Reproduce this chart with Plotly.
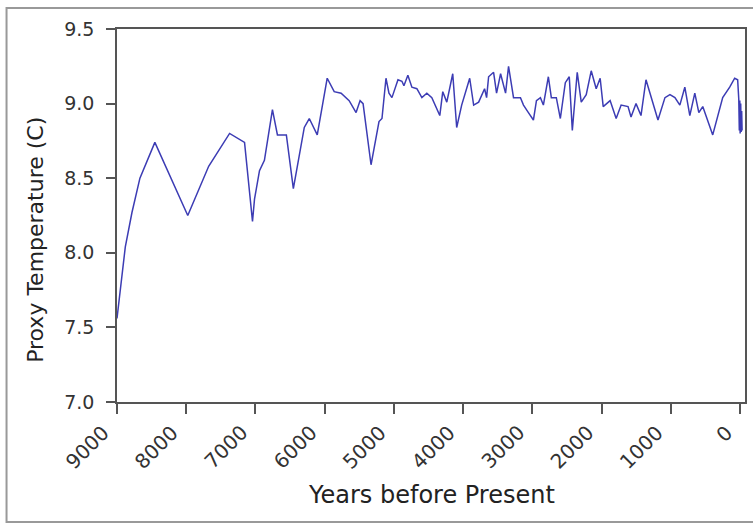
import plotly.graph_objects as go

# Proxy temperature reconstruction, years before present vs. degrees C
years = [
    9000, 8880, 8784, 8669, 8453, 7978, 7676, 7374, 7158, 7043, 7014, 6942,
    6871, 6755, 6683, 6554, 6453, 6295, 6223, 6108, 5964, 5863, 5763, 5647,
    5547, 5489, 5446, 5331, 5216, 5173, 5115, 5072, 5029, 4942, 4885, 4856,
    4799, 4741, 4669, 4597, 4525, 4453, 4338, 4295, 4237, 4151, 4094, 4022,
    3906, 3849, 3777, 3691, 3662, 3633, 3561, 3518, 3460, 3388, 3345, 3273,
    3173, 3129, 3058, 2986, 2942, 2885, 2842, 2770, 2727, 2655, 2597, 2525,
    2468, 2424, 2353, 2295, 2223, 2151, 2079, 2022, 1978, 1878, 1791, 1719,
    1619, 1576, 1504, 1432, 1360, 1288, 1187, 1086, 1014, 942, 871, 799,
    727, 655, 597, 540, 396, 252, 151, 79, 36, 20, 12, 5, 0, -8, -15, -22, -28,
]
temps = [
    7.56, 8.04, 8.27, 8.50, 8.74, 8.25, 8.58, 8.80, 8.74, 8.21, 8.36, 8.55,
    8.62, 8.96, 8.79, 8.79, 8.43, 8.84, 8.90, 8.79, 9.17, 9.08, 9.07, 9.02,
    8.94, 9.02, 9.00, 8.59, 8.88, 8.90, 9.17, 9.07, 9.04, 9.16, 9.15, 9.12,
    9.19, 9.11, 9.10, 9.04, 9.07, 9.04, 8.92, 9.08, 9.01, 9.20, 8.84, 8.99,
    9.17, 8.99, 9.01, 9.10, 9.04, 9.18, 9.21, 9.07, 9.20, 9.07, 9.25, 9.04,
    9.04, 8.99, 8.94, 8.89, 9.02, 9.04, 8.99, 9.18, 9.04, 9.04, 8.90, 9.14,
    9.18, 8.82, 9.21, 9.01, 9.06, 9.22, 9.10, 9.17, 8.98, 9.02, 8.90, 8.99,
    8.98, 8.91, 9.00, 8.92, 9.16, 9.04, 8.89, 9.04, 9.06, 9.04, 8.99, 9.11,
    8.92, 9.07, 8.94, 8.98, 8.79, 9.04, 9.11, 9.17, 9.16, 9.03, 8.82, 9.02,
    8.80, 9.00, 8.81, 8.95, 8.82,
]

x_ticks = [9000, 8000, 7000, 6000, 5000, 4000, 3000, 2000, 1000, 0]
x_tick_text = ["9000", "8000", "7000", "6000", "5000", "4000", "3000", "2000", "1000", "0"]
y_ticks = [7.0, 7.5, 8.0, 8.5, 9.0, 9.5]
y_tick_text = ["7.0", "7.5", "8.0", "8.5", "9.0", "9.5"]

x_title = "Years before Present"
y_title = "Proxy Temperature (C)"

font_family = "DejaVu Sans"

fig = go.Figure()
fig.add_trace(go.Scatter(
    x=years, y=temps, mode="lines",
    line=dict(color="#3c3cb4", width=1.5),
    showlegend=False, hoverinfo="x+y",
))

# slanted year labels, right end tucked under each tick
x_label_annotations = [
    dict(text=t, x=v, xref="x", y=0, yref="paper",
         xanchor="right", yanchor="top", xshift=0, yshift=-16,
         textangle=-45, showarrow=False,
         font=dict(size=20, color="#333"))
    for v, t in zip(x_ticks, x_tick_text)
]

fig.update_layout(
    width=753, height=523,
    margin=dict(l=117, r=6, t=29, b=121),
    paper_bgcolor="white", plot_bgcolor="white",
    font=dict(family=font_family, color="#333"),
    xaxis=dict(
        range=[9000, -70], tickvals=x_ticks, showticklabels=False,
        ticks="outside", ticklen=10, tickwidth=1.5, tickcolor="#555",
        showgrid=False, zeroline=False,
        showline=True, linecolor="#555", linewidth=1.5, mirror=True,
    ),
    yaxis=dict(
        range=[7.0, 9.5], tickvals=y_ticks, ticktext=y_tick_text,
        tickfont=dict(size=19, color="#333"),
        ticks="outside", ticklen=9, tickwidth=1.5, tickcolor="#555",
        ticklabelstandoff=8,
        showgrid=False, zeroline=False,
        showline=True, linecolor="#555", linewidth=1.5, mirror=True,
    ),
    annotations=x_label_annotations + [
        dict(text=x_title, xref="paper", yref="paper", x=0.5, y=-0.249,
             xanchor="center", yanchor="middle", showarrow=False,
             font=dict(size=24, color="#222")),
        dict(text=y_title, xref="paper", yref="paper", x=-0.131, y=0.434,
             xanchor="center", yanchor="middle", showarrow=False, textangle=-90,
             font=dict(size=22, color="#222")),
    ],
    shapes=[dict(
        type="rect", xref="paper", yref="paper",
        x0=-0.1759, x1=1.03, y0=-0.3217, y1=1.0563,
        line=dict(color="#999", width=2), fillcolor="rgba(0,0,0,0)",
        layer="below",
    )],
)

fig.write_html("out.html")
